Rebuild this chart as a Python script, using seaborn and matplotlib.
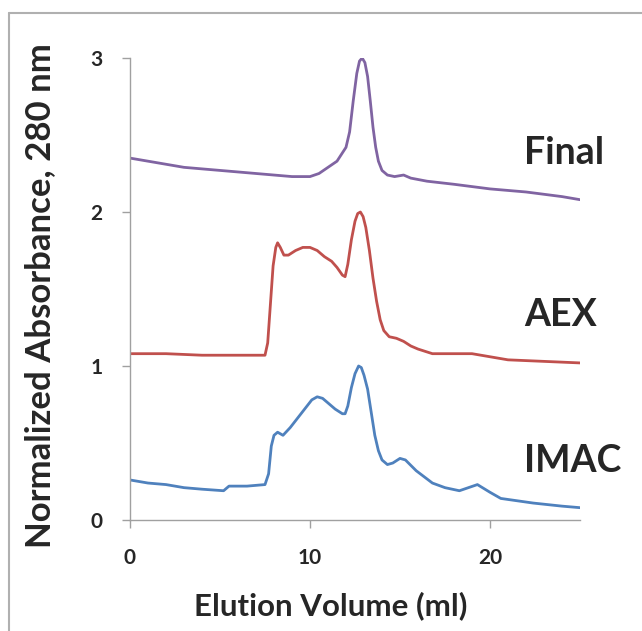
import numpy as np
import pandas as pd
import seaborn as sns
import matplotlib.pyplot as plt
from matplotlib.lines import Line2D

# elution volume (ml) / normalized absorbance
final_x = [0, 1, 2, 3, 4, 5, 6, 7, 8, 9, 10, 10.5, 11.0, 11.5, 12.0, 12.2, 12.4, 12.6,
           12.75, 12.9, 13.05, 13.2, 13.35, 13.5, 13.65, 13.8, 14.0, 14.3, 14.7, 15.2,
           15.6, 16.5, 18, 20, 22, 24, 25]
final_y = [2.35, 2.33, 2.31, 2.29, 2.28, 2.27, 2.26, 2.25, 2.24, 2.23, 2.23, 2.25, 2.29,
           2.33, 2.42, 2.52, 2.72, 2.90, 2.98, 3.0, 2.97, 2.88, 2.72, 2.55, 2.42, 2.33,
           2.27, 2.24, 2.23, 2.24, 2.22, 2.20, 2.18, 2.15, 2.13, 2.10, 2.08]

aex_x = [0, 2, 4, 6, 7.5, 7.65, 7.8, 7.95, 8.1, 8.2, 8.35, 8.55, 8.8, 9.2, 9.6, 10.0,
         10.4, 10.8, 11.2, 11.5, 11.8, 11.95, 12.1, 12.3, 12.5, 12.65, 12.8, 12.95, 13.1,
         13.3, 13.5, 13.7, 13.9, 14.1, 14.4, 14.8, 15.2, 15.6, 16.0, 16.8, 18.0, 19.0,
         20.0, 21.0, 23.0, 25]
aex_y = [1.08, 1.08, 1.07, 1.07, 1.07, 1.15, 1.40, 1.65, 1.77, 1.80, 1.77, 1.72, 1.72,
         1.75, 1.77, 1.77, 1.75, 1.71, 1.68, 1.64, 1.59, 1.58, 1.66, 1.82, 1.94, 1.99,
         2.0, 1.97, 1.90, 1.75, 1.57, 1.42, 1.30, 1.23, 1.19, 1.18, 1.16, 1.13, 1.11,
         1.08, 1.08, 1.08, 1.06, 1.04, 1.03, 1.02]

imac_x = [0, 1, 2, 3, 4, 5.2, 5.5, 6.5, 7.5, 7.7, 7.85, 8.0, 8.2, 8.5, 8.9, 9.3, 9.7,
          10.1, 10.4, 10.7, 11.0, 11.4, 11.8, 11.95, 12.1, 12.3, 12.5, 12.7, 12.85, 13.0,
          13.2, 13.4, 13.6, 13.8, 14.0, 14.3, 14.6, 15.0, 15.3, 15.9, 16.8, 17.5, 18.3,
          19.3, 20.0, 20.6, 22.4, 24, 25]
imac_y = [0.26, 0.24, 0.23, 0.21, 0.20, 0.19, 0.22, 0.22, 0.23, 0.30, 0.48, 0.55, 0.57,
          0.55, 0.60, 0.66, 0.72, 0.78, 0.80, 0.79, 0.76, 0.72, 0.69, 0.69, 0.74, 0.86,
          0.95, 1.0, 0.99, 0.94, 0.85, 0.70, 0.55, 0.45, 0.39, 0.36, 0.37, 0.40, 0.39,
          0.32, 0.24, 0.21, 0.19, 0.23, 0.18, 0.14, 0.11, 0.09, 0.08]

series = ['Final', 'AEX', 'IMAC']
colors = ['#8064A2', '#C0504D', '#4F81BD']
label_y = [2.38, 1.33, 0.38]

sns.set_theme(style="white")
plt.rcParams['font.family'] = ['Lato', 'DejaVu Sans']
plt.rcParams['font.weight'] = 'bold'

fig = plt.figure(figsize=(6.42, 6.31), dpi=100)
ax = fig.add_axes([130 / 642, 1 - 520 / 631, 450 / 642, 462 / 631])

for name, xs, ys, c in zip(series, [final_x, aex_x, imac_x],
                           [final_y, aex_y, imac_y], colors):
    df = pd.DataFrame({'x': xs, 'y': ys})
    sns.lineplot(data=df, x='x', y='y', color=c, linewidth=2.0, ax=ax)

for name, ly in zip(series, label_y):
    ax.text(21.9, ly, name, fontsize=27, fontweight='bold', va='center', ha='left',
            clip_on=False)

ax.set_xlim(0, 25)
ax.set_ylim(0, 3)
ax.set_xticks([0, 10, 20])
ax.set_yticks([0, 1, 2, 3])
ax.set_xlabel('Elution Volume (ml)', fontsize=22.5, fontweight='bold')
ax.set_ylabel('Normalized Absorbance, 280 nm', fontsize=25, fontweight='bold')
ax.xaxis.set_label_coords(0.447, -0.155)
ax.yaxis.set_label_coords(-0.165, 0.485)
ax.tick_params(axis='both', labelsize=15, length=6, width=1, color='#a0a0a0',
               direction='out', bottom=True, left=True)
ax.tick_params(axis='y', pad=14)
ax.tick_params(axis='x', pad=14)
for lab in ax.get_xticklabels() + ax.get_yticklabels():
    lab.set_fontweight('bold')
for s in ['top', 'right']:
    ax.spines[s].set_visible(False)
for s in ['left', 'bottom']:
    ax.spines[s].set_color('#a0a0a0')
    ax.spines[s].set_linewidth(1)

# frame around the picture (left and top edges visible)
fig.add_artist(Line2D([9 / 642, 9 / 642], [0, 1 - 13 / 631], transform=fig.transFigure,
                      color='#b0b0b0', linewidth=1.5))
fig.add_artist(Line2D([9 / 642, 1], [1 - 13 / 631, 1 - 13 / 631], transform=fig.transFigure,
                      color='#b0b0b0', linewidth=1.5))

fig.savefig('out.png', dpi=100)
